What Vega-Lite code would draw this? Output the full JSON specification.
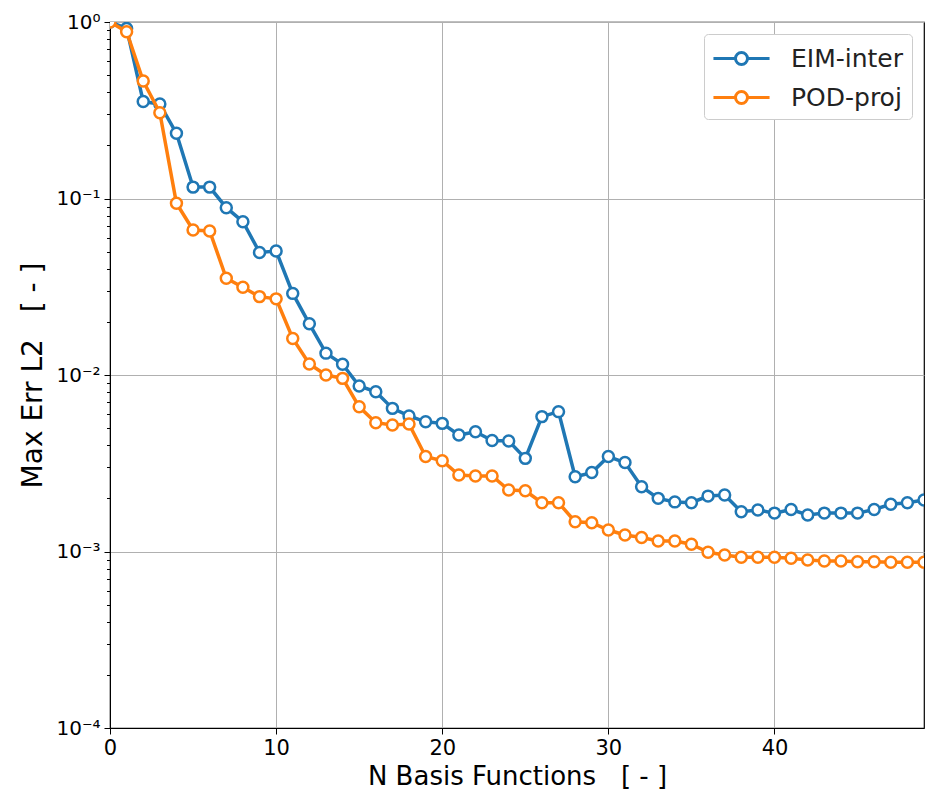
{
  "$schema": "https://vega.github.io/schema/vega-lite/v6.json",
  "width": 814,
  "height": 706,
  "autosize": "none",
  "padding": {"left": 110, "top": 22, "right": 2, "bottom": 64},
  "background": "white",
  "config": {
    "view": {"stroke": "black", "strokeWidth": 1.2},
    "axis": {
      "domainColor": "black",
      "tickColor": "black",
      "labelColor": "black",
      "titleColor": "black",
      "gridColor": "#b0b0b0",
      "gridWidth": 1,
      "titleFontWeight": "normal"
    }
  },
  "data": {
    "values": [
      {"n":0,"err":1.0,"method":"EIM-inter"},
      {"n":1,"err":0.92,"method":"EIM-inter"},
      {"n":2,"err":0.354,"method":"EIM-inter"},
      {"n":3,"err":0.343,"method":"EIM-inter"},
      {"n":4,"err":0.234,"method":"EIM-inter"},
      {"n":5,"err":0.116,"method":"EIM-inter"},
      {"n":6,"err":0.116,"method":"EIM-inter"},
      {"n":7,"err":0.0887,"method":"EIM-inter"},
      {"n":8,"err":0.0739,"method":"EIM-inter"},
      {"n":9,"err":0.0495,"method":"EIM-inter"},
      {"n":10,"err":0.0504,"method":"EIM-inter"},
      {"n":11,"err":0.029,"method":"EIM-inter"},
      {"n":12,"err":0.0195,"method":"EIM-inter"},
      {"n":13,"err":0.0133,"method":"EIM-inter"},
      {"n":14,"err":0.0115,"method":"EIM-inter"},
      {"n":15,"err":0.00866,"method":"EIM-inter"},
      {"n":16,"err":0.00804,"method":"EIM-inter"},
      {"n":17,"err":0.00647,"method":"EIM-inter"},
      {"n":18,"err":0.00586,"method":"EIM-inter"},
      {"n":19,"err":0.00543,"method":"EIM-inter"},
      {"n":20,"err":0.00532,"method":"EIM-inter"},
      {"n":21,"err":0.00457,"method":"EIM-inter"},
      {"n":22,"err":0.00477,"method":"EIM-inter"},
      {"n":23,"err":0.00425,"method":"EIM-inter"},
      {"n":24,"err":0.00423,"method":"EIM-inter"},
      {"n":25,"err":0.00337,"method":"EIM-inter"},
      {"n":26,"err":0.00581,"method":"EIM-inter"},
      {"n":27,"err":0.0062,"method":"EIM-inter"},
      {"n":28,"err":0.00265,"method":"EIM-inter"},
      {"n":29,"err":0.0028,"method":"EIM-inter"},
      {"n":30,"err":0.00345,"method":"EIM-inter"},
      {"n":31,"err":0.00319,"method":"EIM-inter"},
      {"n":32,"err":0.00233,"method":"EIM-inter"},
      {"n":33,"err":0.0020,"method":"EIM-inter"},
      {"n":34,"err":0.00191,"method":"EIM-inter"},
      {"n":35,"err":0.00189,"method":"EIM-inter"},
      {"n":36,"err":0.00206,"method":"EIM-inter"},
      {"n":37,"err":0.00209,"method":"EIM-inter"},
      {"n":38,"err":0.00168,"method":"EIM-inter"},
      {"n":39,"err":0.00172,"method":"EIM-inter"},
      {"n":40,"err":0.00165,"method":"EIM-inter"},
      {"n":41,"err":0.00173,"method":"EIM-inter"},
      {"n":42,"err":0.00161,"method":"EIM-inter"},
      {"n":43,"err":0.00165,"method":"EIM-inter"},
      {"n":44,"err":0.00165,"method":"EIM-inter"},
      {"n":45,"err":0.00165,"method":"EIM-inter"},
      {"n":46,"err":0.00173,"method":"EIM-inter"},
      {"n":47,"err":0.00185,"method":"EIM-inter"},
      {"n":48,"err":0.00189,"method":"EIM-inter"},
      {"n":49,"err":0.00196,"method":"EIM-inter"},
      {"n":0,"err":1.0,"method":"POD-proj"},
      {"n":1,"err":0.88,"method":"POD-proj"},
      {"n":2,"err":0.463,"method":"POD-proj"},
      {"n":3,"err":0.306,"method":"POD-proj"},
      {"n":4,"err":0.094,"method":"POD-proj"},
      {"n":5,"err":0.0663,"method":"POD-proj"},
      {"n":6,"err":0.0655,"method":"POD-proj"},
      {"n":7,"err":0.0353,"method":"POD-proj"},
      {"n":8,"err":0.0314,"method":"POD-proj"},
      {"n":9,"err":0.0278,"method":"POD-proj"},
      {"n":10,"err":0.027,"method":"POD-proj"},
      {"n":11,"err":0.0161,"method":"POD-proj"},
      {"n":12,"err":0.01154,"method":"POD-proj"},
      {"n":13,"err":0.0100,"method":"POD-proj"},
      {"n":14,"err":0.00957,"method":"POD-proj"},
      {"n":15,"err":0.0066,"method":"POD-proj"},
      {"n":16,"err":0.00537,"method":"POD-proj"},
      {"n":17,"err":0.00521,"method":"POD-proj"},
      {"n":18,"err":0.00528,"method":"POD-proj"},
      {"n":19,"err":0.00345,"method":"POD-proj"},
      {"n":20,"err":0.00327,"method":"POD-proj"},
      {"n":21,"err":0.00271,"method":"POD-proj"},
      {"n":22,"err":0.00268,"method":"POD-proj"},
      {"n":23,"err":0.00268,"method":"POD-proj"},
      {"n":24,"err":0.00223,"method":"POD-proj"},
      {"n":25,"err":0.00221,"method":"POD-proj"},
      {"n":26,"err":0.00189,"method":"POD-proj"},
      {"n":27,"err":0.00189,"method":"POD-proj"},
      {"n":28,"err":0.001475,"method":"POD-proj"},
      {"n":29,"err":0.001456,"method":"POD-proj"},
      {"n":30,"err":0.001324,"method":"POD-proj"},
      {"n":31,"err":0.00124,"method":"POD-proj"},
      {"n":32,"err":0.0012,"method":"POD-proj"},
      {"n":33,"err":0.001146,"method":"POD-proj"},
      {"n":34,"err":0.001146,"method":"POD-proj"},
      {"n":35,"err":0.0011,"method":"POD-proj"},
      {"n":36,"err":0.00099,"method":"POD-proj"},
      {"n":37,"err":0.000955,"method":"POD-proj"},
      {"n":38,"err":0.000927,"method":"POD-proj"},
      {"n":39,"err":0.000927,"method":"POD-proj"},
      {"n":40,"err":0.000927,"method":"POD-proj"},
      {"n":41,"err":0.000915,"method":"POD-proj"},
      {"n":42,"err":0.000895,"method":"POD-proj"},
      {"n":43,"err":0.000883,"method":"POD-proj"},
      {"n":44,"err":0.000883,"method":"POD-proj"},
      {"n":45,"err":0.000875,"method":"POD-proj"},
      {"n":46,"err":0.000875,"method":"POD-proj"},
      {"n":47,"err":0.000869,"method":"POD-proj"},
      {"n":48,"err":0.000869,"method":"POD-proj"},
      {"n":49,"err":0.000869,"method":"POD-proj"}
    ]
  },
  "encoding": {
    "x": {
      "field": "n",
      "type": "quantitative",
      "scale": {"domain": [0, 49], "nice": false, "zero": false},
      "axis": {
        "values": [0, 10, 20, 30, 40],
        "title": "N Basis Functions\u00a0\u00a0\u00a0[ - ]",
        "titleFont": "DejaVu Sans",
        "titleFontSize": 26,
        "titlePadding": 5,
        "labelFont": "DejaVu Sans",
        "labelFontSize": 21,
        "labelPadding": 3,
        "tickSize": 6,
        "labelFlush": false,
        "labelOverlap": false
      }
    },
    "y": {
      "field": "err",
      "type": "quantitative",
      "scale": {"type": "log", "domain": [0.0001, 1], "nice": false},
      "axis": {
        "values": [0.0001,0.0002,0.0003,0.0004,0.0005,0.0006,0.0007,0.0008,0.0009,0.001,0.002,0.003,0.004,0.005,0.006,0.007,0.008,0.009,0.01,0.02,0.03,0.04,0.05,0.06,0.07,0.08,0.09,0.1,0.2,0.3,0.4,0.5,0.6,0.7,0.8,0.9,1],
        "labelExpr": "abs(log(datum.value)/LN10 - round(log(datum.value)/LN10)) < 0.001 ? (round(log(datum.value)/LN10) == 0 ? '10⁰' : round(log(datum.value)/LN10) == -1 ? '10⁻¹' : round(log(datum.value)/LN10) == -2 ? '10⁻²' : round(log(datum.value)/LN10) == -3 ? '10⁻³' : '10⁻⁴') : ''",
        "gridOpacity": {"condition": {"test": "abs(log(datum.value)/LN10 - round(log(datum.value)/LN10)) < 0.001", "value": 1}, "value": 0},
        "tickSize": {"condition": {"test": "abs(log(datum.value)/LN10 - round(log(datum.value)/LN10)) < 0.001", "value": 6}, "value": 3.5},
        "labelOverlap": false,
        "labelFlush": false,
        "title": "Max Err L2\u00a0\u00a0\u00a0[ - ]",
        "titleFont": "DejaVu Sans",
        "titleFontSize": 28,
        "titlePadding": 8,
        "labelFont": "DejaVu Sans",
        "labelFontSize": 20,
        "labelPadding": 4
      }
    },
    "color": {
      "field": "method",
      "type": "nominal",
      "scale": {"domain": ["EIM-inter", "POD-proj"], "range": ["#1f77b4", "#ff7f0e"]},
      "legend": {
        "title": null,
        "orient": "top-right",
        "offset": 12,
        "labelFont": "DejaVu Sans",
        "labelFontSize": 25,
        "labelColor": "#222222",
        "labelOffset": 33,
        "symbolType": "M-1.87,0L-0.44,0M0.44,0L1.87,0M-0.4,0A0.4,0.4,0,1,1,0.4,0A0.4,0.4,0,1,1,-0.4,0",
        "symbolSize": 900,
        "symbolOffset": 13,
        "symbolStrokeWidth": 3,
        "symbolFillColor": "white",
        "padding": 8,
        "rowPadding": 9,
        "strokeColor": "#cccccc",
        "fillColor": "white",
        "cornerRadius": 4,
        "encode": {"symbols": {"update": {"fill": {"value": "white"}, "opacity": {"value": 1}}}}
      }
    }
  },
  "layer": [
    {
      "transform": [{"filter": "datum.method == 'EIM-inter'"}],
      "mark": {"type": "line", "strokeWidth": 3.5, "clip": true}
    },
    {
      "transform": [{"filter": "datum.method == 'EIM-inter'"}],
      "mark": {"type": "point", "shape": "circle", "filled": false, "fill": "white", "fillOpacity": 1, "opacity": 1, "size": 120, "strokeWidth": 2.5, "clip": true}
    },
    {
      "transform": [{"filter": "datum.method == 'POD-proj'"}],
      "mark": {"type": "line", "strokeWidth": 3.5, "clip": true}
    },
    {
      "transform": [{"filter": "datum.method == 'POD-proj'"}],
      "mark": {"type": "point", "shape": "circle", "filled": false, "fill": "white", "fillOpacity": 1, "opacity": 1, "size": 120, "strokeWidth": 2.5, "clip": true}
    }
  ]
}
